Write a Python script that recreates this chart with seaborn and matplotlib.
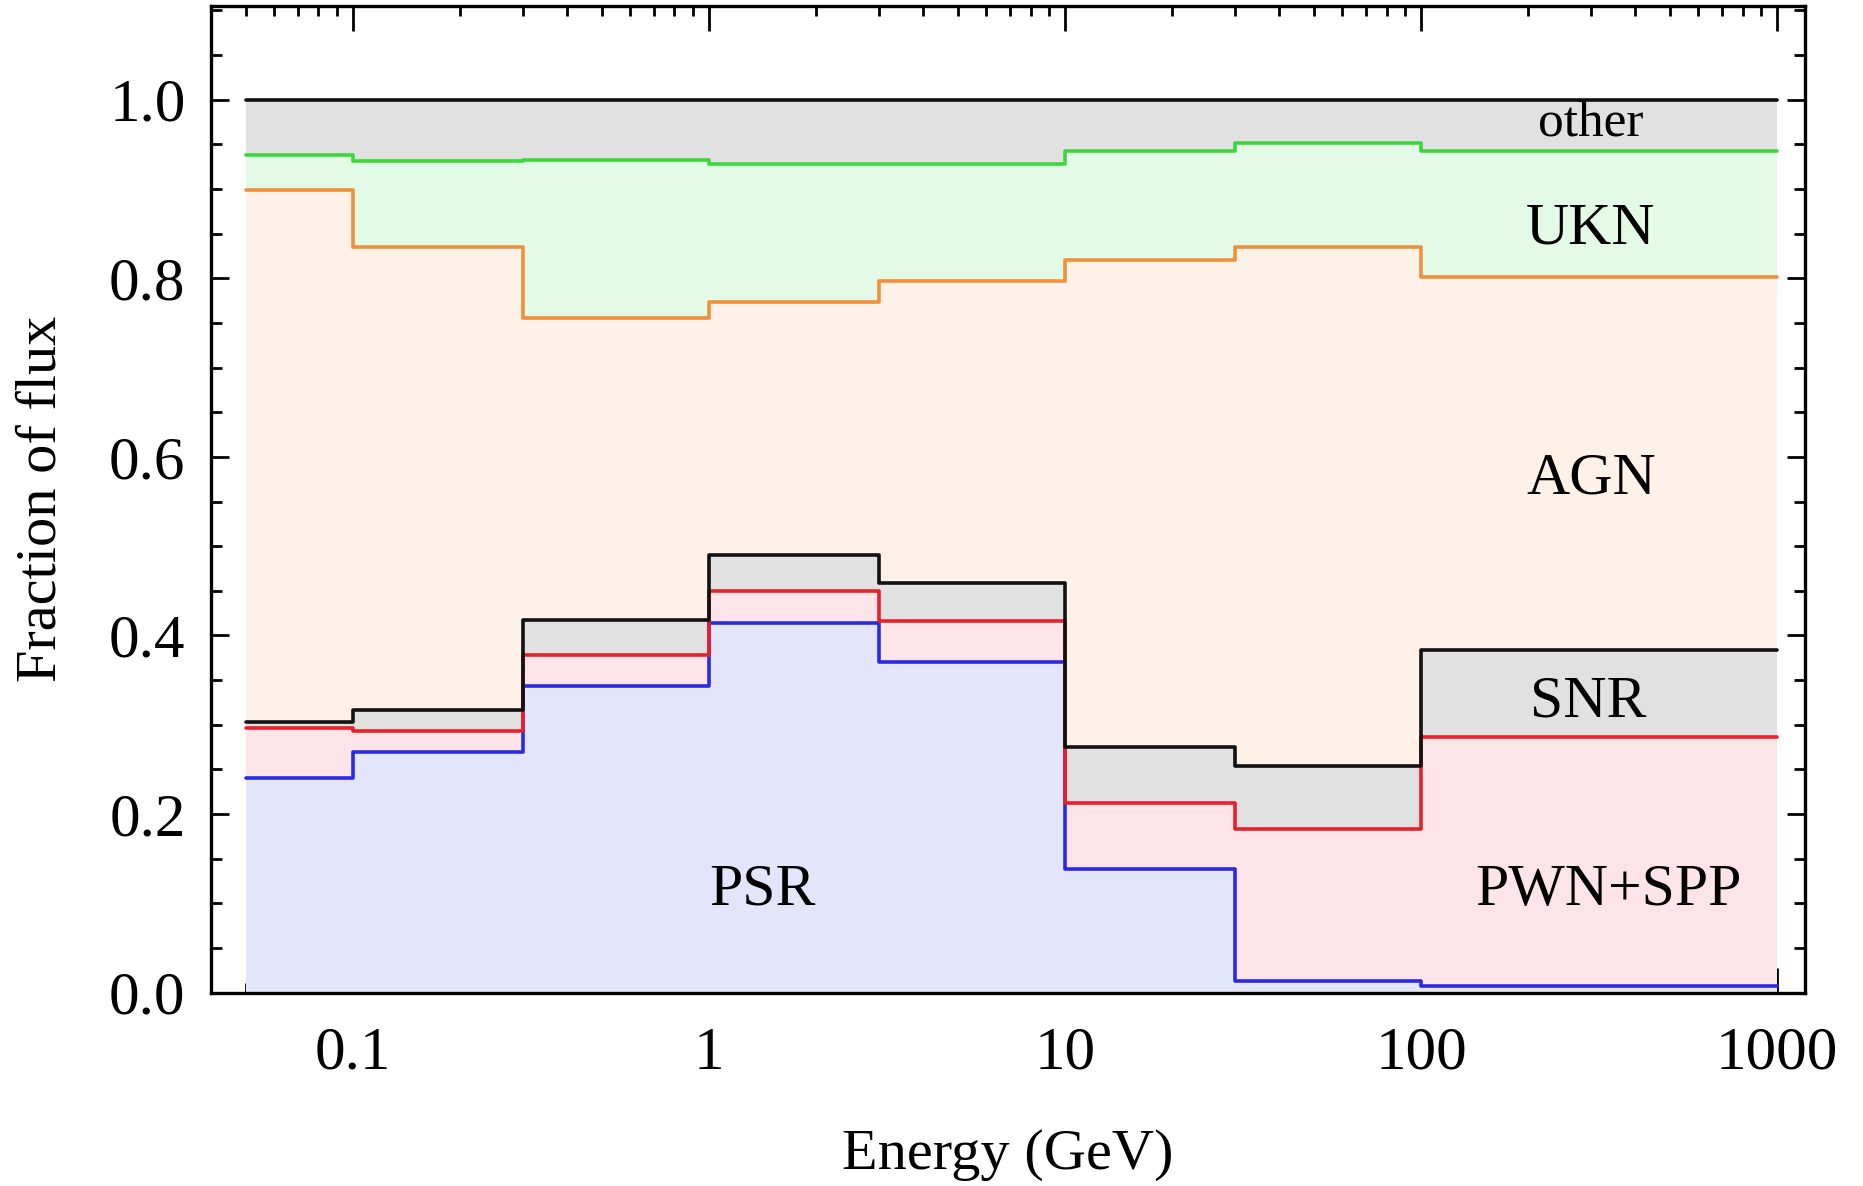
import numpy as np
import pandas as pd
import matplotlib
matplotlib.use("Agg")
import matplotlib.pyplot as plt
import seaborn as sns

# Energy bin edges (GeV)
edges = [0.05, 0.1, 0.3, 1.0, 3.0, 10.0, 30.0, 100.0, 1000.0]

# Cumulative flux fractions per energy bin (stacked from the bottom)
psr = [0.240, 0.270, 0.343, 0.414, 0.370, 0.139, 0.013, 0.007]
psr_pwn_spp = [0.296, 0.293, 0.378, 0.450, 0.416, 0.212, 0.183, 0.286]
psr_pwn_snr = [0.303, 0.317, 0.417, 0.490, 0.459, 0.275, 0.254, 0.384]
plus_agn = [0.899, 0.835, 0.756, 0.773, 0.797, 0.821, 0.835, 0.802]
plus_ukn = [0.938, 0.931, 0.932, 0.928, 0.928, 0.943, 0.952, 0.943]
total = [1.0, 1.0, 1.0, 1.0, 1.0, 1.0, 1.0, 1.0]

layers = [
    # (upper curve, lower curve, fill colour, line colour)
    (psr, None, "#e3e6fa", "#2a2ae6"),
    (psr_pwn_spp, psr, "#fde4e8", "#e8202c"),
    (psr_pwn_snr, psr_pwn_spp, "#e1e1e1", "#111111"),
    (plus_agn, psr_pwn_snr, "#fef1e8", "#f0903a"),
    (plus_ukn, plus_agn, "#e3fae6", "#3ad83a"),
    (total, plus_ukn, "#e1e1e1", "#111111"),
]

region_labels = ["other", "UKN", "AGN", "SNR", "PWN+SPP", "PSR"]
label_x = [300, 300, 300, 295, 335, 1.41]
label_y = [0.973, 0.855, 0.575, 0.325, 0.114, 0.114]
label_size = [37, 43, 43, 43, 43, 43]

sns.set_theme(style="ticks")
plt.rcParams["font.family"] = ["Liberation Serif", "DejaVu Serif"]
plt.rcParams["text.color"] = "black"
plt.rcParams["axes.labelcolor"] = "black"

fig = plt.figure(figsize=(18.63, 11.86), dpi=100)
ax = fig.add_axes([0.113, 0.163, 0.856, 0.832])


def ext(v):
    return list(v) + [v[-1]]


for upper, lower, fc, lc in layers:
    lo = np.zeros(len(edges)) if lower is None else np.array(ext(lower))
    ax.fill_between(edges, lo, ext(upper), step="post", color=fc, lw=0, zorder=1)

for upper, lower, fc, lc in layers:
    df = pd.DataFrame({"E": edges, "frac": ext(upper)})
    sns.lineplot(data=df, x="E", y="frac", estimator=None, sort=False,
                 drawstyle="steps-post", color=lc, lw=2.6, ax=ax, zorder=3)

for txt, lx, ly, fs in zip(region_labels, label_x, label_y, label_size):
    ax.text(lx, ly, txt, ha="center", va="center", fontsize=fs, color="black", zorder=5)

ax.set_xscale("log")
ax.set_xlim(0.0398, 1200)
ax.set_ylim(0.0, 1.105)

ax.set_xticks([0.1, 1, 10, 100, 1000])
ax.set_xticklabels(["0.1", "1", "10", "100", "1000"])
ax.xaxis.set_minor_locator(matplotlib.ticker.LogLocator(base=10, subs=np.arange(2, 10)))
ax.xaxis.set_minor_formatter(matplotlib.ticker.NullFormatter())
ax.set_yticks([0.0, 0.2, 0.4, 0.6, 0.8, 1.0])
ax.set_yticklabels(["0.0", "0.2", "0.4", "0.6", "0.8", "1.0"])
ax.yaxis.set_minor_locator(matplotlib.ticker.MultipleLocator(0.05))

ax.tick_params(which="both", direction="in", top=True, right=True, colors="black",
               labelsize=44, width=2.0)
ax.tick_params(axis="x", which="major", length=18, pad=24)
ax.tick_params(axis="x", which="minor", length=7)
ax.tick_params(axis="y", which="major", length=13, pad=18)
ax.tick_params(axis="y", which="minor", length=8)
for sp in ax.spines.values():
    sp.set_linewidth(2.4)
    sp.set_color("black")

ax.set_xlabel("Energy (GeV)", fontsize=42, labelpad=34)
ax.set_ylabel("Fraction of flux", fontsize=42, labelpad=30)

fig.savefig("out.png", dpi=100, facecolor="white")
